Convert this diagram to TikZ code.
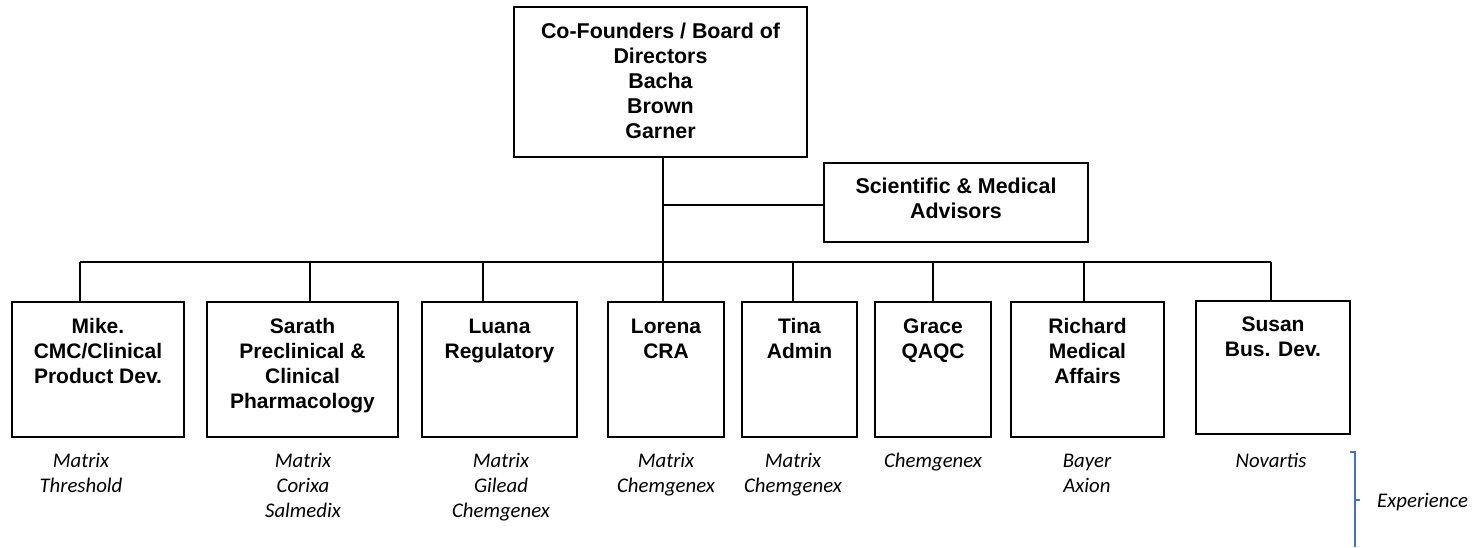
\documentclass[tikz,border=0pt]{standalone}
\usepackage{fontspec}
\setmainfont{Liberation Sans}
\newfontfamily\calib{Carlito}
\usetikzlibrary{calc}
\definecolor{bracecol}{RGB}{68,114,196}
\newcommand\stk[1]{\begin{tabular}[t]{@{}c@{}}#1\end{tabular}}
\begin{document}
\begin{tikzpicture}[x=1pt,y=-1pt,
  box/.style={draw, line width=2pt, inner sep=0, rectangle},
  conn/.style={line width=1.5pt},
  lbl/.style={anchor=base, inner sep=0, font=\fontsize{21}{25}\selectfont\bfseries},
  toplbl/.style={lbl, font=\fontsize{21.4}{25}\selectfont\bfseries},
  exper/.style={anchor=base, inner sep=0, font=\calib\fontsize{20.8}{25}\selectfont\itshape},
  bracepath/.style={draw=bracecol, line width=1.5pt}]
\useasboundingbox (0,0) rectangle (1476,547);

% top and advisors
\node[box, minimum width=293pt, minimum height=150pt] (top) at (660.5,82) {};
\node[toplbl] (topt) at (660.5,38) {\stk{Co-Founders / Board of\\Directors\\Bacha\\Brown\\Garner}};
\node[box, minimum width=264pt, minimum height=79pt] (adv) at (956,202.5) {};
\node[toplbl] (advt) at (956,193) {\stk{Scientific \& Medical\\Advisors}};

% bottom boxes
\node[box, minimum width=172pt, minimum height=135pt] (mike) at (98,369.5) {};
\node[box, minimum width=191pt, minimum height=135pt] (sarath) at (302.5,369.5) {};
\node[box, minimum width=155pt, minimum height=135pt] (luana) at (499.5,369.5) {};
\node[box, minimum width=116pt, minimum height=135pt] (lorena) at (666,369.5) {};
\node[box, minimum width=115pt, minimum height=135pt] (tina) at (799.5,369.5) {};
\node[box, minimum width=116pt, minimum height=135pt] (grace) at (933,369.5) {};
\node[box, minimum width=153pt, minimum height=135pt] (richard) at (1087.5,369.5) {};
\node[box, minimum width=154pt, minimum height=133pt] (susan) at (1273,367.5) {};

\node[lbl] (miket) at (98,333) {\stk{Mike.\\CMC/Clinical\\Product Dev.}};
\node[lbl] (saratht) at (302.5,333) {\stk{Sarath\\Preclinical \&\\Clinical\\Pharmacology}};
\node[lbl] (luanat) at (499.5,333) {\stk{Luana\\Regulatory}};
\node[lbl] (lorenat) at (666,333) {\stk{Lorena\\CRA}};
\node[lbl] (tinat) at (799.5,333) {\stk{Tina\\Admin}};
\node[lbl] (gracet) at (933,333) {\stk{Grace\\QAQC}};
\node[lbl] (richardt) at (1087.5,333) {\stk{Richard\\Medical\\Affairs}};
\node[lbl] (susant) at (1273,331) {\stk{Susan\\Bus. Dev.}};

% experience
\node[exper] (mikee) at (81,467) {\stk{Matrix\\Threshold}};
\node[exper] (sarathe) at (303,467) {\stk{Matrix\\Corixa\\Salmedix}};
\node[exper] (luanae) at (501,467) {\stk{Matrix\\Gilead\\Chemgenex}};
\node[exper] (lorenae) at (666,467) {\stk{Matrix\\Chemgenex}};
\node[exper] (tinae) at (793,467) {\stk{Matrix\\Chemgenex}};
\node[exper] (gracee) at (933,467) {\stk{Chemgenex}};
\node[exper] (richarde) at (1087,467) {\stk{Bayer\\Axion}};
\node[exper] (susane) at (1271,467) {\stk{Novartis}};

% connectors
\coordinate (d1) at (80,262);
\coordinate (d2) at (310,262);
\coordinate (d3) at (483,262);
\coordinate (d4) at (663,262);
\coordinate (d5) at (793,262);
\coordinate (d6) at (933,262);
\coordinate (d7) at (1084,262);
\coordinate (d8) at (1271,262);
\coordinate (aj) at (663,205);
\draw[conn] (d1) -- (d8);
\draw[conn] (top.south -| d4) -- (lorena.north -| d4);
\draw[conn] (aj) -- (aj -| adv.west);
\draw[conn] (d1) -- (d1 |- mike.north);
\draw[conn] (d2) -- (d2 |- sarath.north);
\draw[conn] (d3) -- (d3 |- luana.north);
\draw[conn] (d5) -- (d5 |- tina.north);
\draw[conn] (d6) -- (d6 |- grace.north);
\draw[conn] (d7) -- (d7 |- richard.north);
\draw[conn] (d8) -- (d8 |- susan.north);

% bracket
\coordinate (bt) at (1355,452);
\coordinate (bm) at (1355,500);
\coordinate (bb) at (1355,547);
\draw[bracepath] ($(bt)+(-5,0)$) -- (bt) -- (bb);
\draw[bracepath] (bm) -- ++(5,0);
\node[exper, anchor=base west] (explbl) at (1377,507) {Experience};
\end{tikzpicture}
\end{document}
